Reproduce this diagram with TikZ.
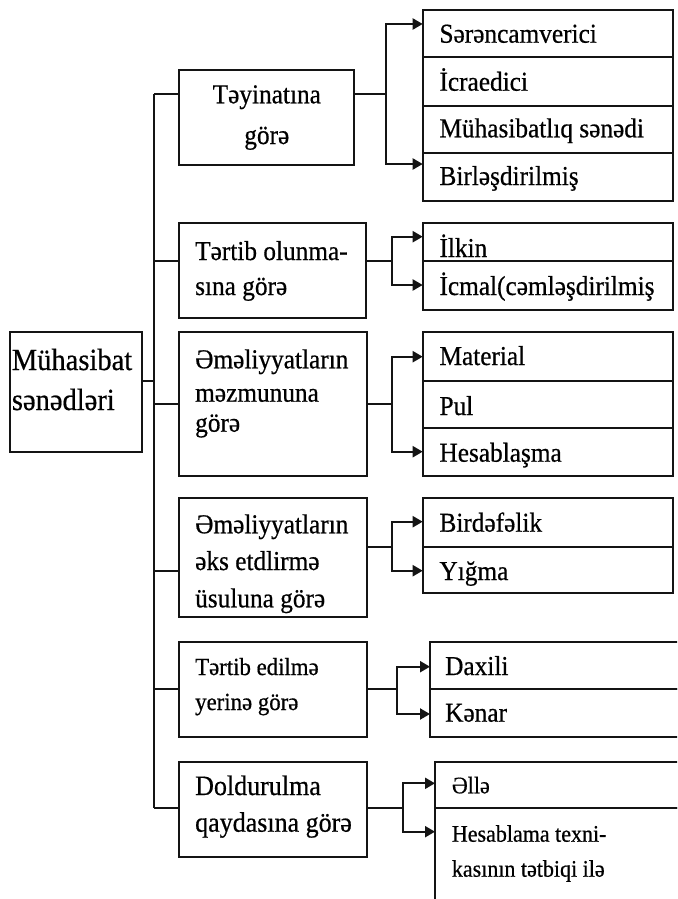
\documentclass[tikz,border=0pt]{standalone}
\usepackage{graphicx}
\usepackage{fontspec}
\setmainfont[FakeBold=0.6]{Liberation Serif}
\usetikzlibrary{arrows.meta}
\newcommand\vst[1]{\scalebox{1}[1.08]{#1}}
\begin{document}
\begin{tikzpicture}[x=1pt,y=-1pt,
  box/.style={draw=black!92, line width=2.1pt, inner sep=0pt, outer sep=0pt, anchor=north west},
  lnk/.style={line width=2.1pt, draw=black!92},
  arr/.style={line width=2.1pt, draw=black!92, -{Triangle[length=10pt,width=11pt]}},
  txt/.style={inner sep=0pt, anchor=base west, font=\fontsize{25.3}{30}\selectfont},
  ctxt/.style={txt, anchor=base},
]
\useasboundingbox (0,0) rectangle (677,899);
\clip (0,0) rectangle (677,899);

% ---------- boxes ----------
\node[box, minimum width=131.7pt, minimum height=120pt] (main) at (10,331.7) {};
\node[box, minimum width=175pt,   minimum height=94.7pt] (b1) at (179.3,70.3) {};
\node[box, minimum width=186.7pt, minimum height=95pt]   (b2) at (179.3,223.3) {};
\node[box, minimum width=187.4pt, minimum height=144pt]  (b3) at (179.3,331.7) {};
\node[box, minimum width=187.4pt, minimum height=119pt]  (b4) at (179.3,498.3) {};
\node[box, minimum width=187.4pt, minimum height=95pt]   (b5) at (179.3,642.3) {};
\node[box, minimum width=187.4pt, minimum height=95.6pt] (b6) at (179.3,761.7) {};

\node[box, minimum width=250pt, minimum height=47.3pt] (r1a) at (422.7,10) {};
\node[box, minimum width=250pt, minimum height=48.7pt] (r1b) at (422.7,57.3) {};
\node[box, minimum width=250pt, minimum height=46.7pt] (r1c) at (422.7,106) {};
\node[box, minimum width=250pt, minimum height=48pt]   (r1d) at (422.7,152.7) {};
\node[box, minimum width=250pt, minimum height=37.7pt] (r2a) at (422.7,223.3) {};
\node[box, minimum width=250pt, minimum height=49pt]   (r2b) at (422.7,261) {};
\node[box, minimum width=250pt, minimum height=49pt]   (r3a) at (422.7,331.7) {};
\node[box, minimum width=250pt, minimum height=47pt]   (r3b) at (422.7,380.7) {};
\node[box, minimum width=250pt, minimum height=48pt]   (r3c) at (422.7,427.7) {};
\node[box, minimum width=250pt, minimum height=48.4pt] (r4a) at (422.7,498.3) {};
\node[box, minimum width=250pt, minimum height=46.6pt] (r4b) at (422.7,546.7) {};
\node[box, minimum width=270pt, minimum height=47pt]   (r5a) at (430,642.3) {};
\node[box, minimum width=270pt, minimum height=48pt]   (r5b) at (430,689.3) {};
\node[box, minimum width=265pt, minimum height=46.6pt] (r6a) at (435,761.7) {};
\node[box, minimum width=265pt, minimum height=120pt]  (r6b) at (435,808.3) {};

% ---------- texts ----------
\node[txt, font=\fontsize{28.5}{30}\selectfont] (tm1) at (11.7,370) {\vst{Mühasibat}};
\node[txt, font=\fontsize{28.5}{30}\selectfont] (tm2) at (11.7,410) {\vst{sənədləri}};

\node[ctxt] (t1a) at (266.8,103.3) {\vst{Təyinatına}};
\node[ctxt] (t1b) at (266.8,144) {\vst{görə}};
\node[txt] (t2a) at (195,260) {\vst{Tərtib olunma-}};
\node[txt] (t2b) at (195,295) {\vst{sına görə}};
\node[txt] (t3a) at (195,368.3) {\vst{Əməliyyatların}};
\node[txt] (t3b) at (195,401.7) {\vst{məzmununa}};
\node[txt] (t3c) at (195,431.7) {\vst{görə}};
\node[txt] (t4a) at (195,533.3) {\vst{Əməliyyatların}};
\node[txt] (t4b) at (195,570) {\vst{əks etdlirmə}};
\node[txt] (t4c) at (195,607.3) {\vst{üsuluna görə}};
\node[txt, font=\fontsize{22.8}{30}\selectfont] (t5a) at (195,675) {\vst{Tərtib edilmə}};
\node[txt, font=\fontsize{22.8}{30}\selectfont] (t5b) at (195,710) {\vst{yerinə görə}};
\node[txt, font=\fontsize{26}{30}\selectfont] (t6a) at (195,795) {\vst{Doldurulma}};
\node[txt, font=\fontsize{26}{30}\selectfont] (t6b) at (195,831.7) {\vst{qaydasına görə}};

\node[txt] (s1a) at (439.3,42.7) {\vst{Sərəncamverici}};
\node[txt] (s1b) at (439.3,90.7) {\vst{İcraedici}};
\node[txt] (s1c) at (439.3,137.3) {\vst{Mühasibatlıq sənədi}};
\node[txt] (s1d) at (439.3,185) {\vst{Birləşdirilmiş}};
\node[txt] (s2a) at (439.3,257) {\vst{İlkin}};
\node[txt] (s2b) at (439.3,295) {\vst{İcmal(cəmləşdirilmiş}};
\node[txt] (s3a) at (439.3,365) {\vst{Material}};
\node[txt] (s3b) at (439.3,415) {\vst{Pul}};
\node[txt] (s3c) at (439.3,461.7) {\vst{Hesablaşma}};
\node[txt] (s4a) at (439.3,531.7) {\vst{Birdəfəlik}};
\node[txt] (s4b) at (439.3,580) {\vst{Yığma}};
\node[txt] (s5a) at (445,675) {\vst{Daxili}};
\node[txt] (s5b) at (445,721.7) {\vst{Kənar}};
\node[txt, font=\fontsize{22}{30}\selectfont] (s6a) at (451.7,793.3) {\vst{Əllə}};
\node[txt, font=\fontsize{22}{30}\selectfont] (s6b) at (451.7,841.7) {\vst{Hesablama texni-}};
\node[txt, font=\fontsize{22}{30}\selectfont] (s6c) at (451.7,876.7) {\vst{kasının tətbiqi ilə}};

% ---------- trunk ----------
\coordinate (trtop) at (154.3,94);
\coordinate (trbot) at (154.3,808.3);
\draw[lnk] (trtop) -- (trbot);
\draw[lnk] ([yshift=11pt]main.east) -- ([yshift=11pt]main.east -| trtop);

\coordinate (k1) at (179.3,94);
\coordinate (k2) at (179.3,261);
\coordinate (k3) at (179.3,404);
\coordinate (k4) at (179.3,570.7);
\coordinate (k5) at (179.3,689);
\coordinate (k6) at (179.3,808.3);
\foreach \k in {k1,k2,k3,k4,k5,k6}
  \draw[lnk] (\k -| trtop) -- (\k);

% ---------- branches ----------
\coordinate (j1) at (385.7,94);
\coordinate (j2) at (392.3,261);
\coordinate (j3) at (391.7,404);
\coordinate (j4) at (391.7,546.7);
\coordinate (j5) at (396.7,689);
\coordinate (j6) at (403.3,808.3);
\draw[lnk] (b1.east |- j1) -- (j1);
\draw[lnk] (b2.east |- j2) -- (j2);
\draw[lnk] (b3.east |- j3) -- (j3);
\draw[lnk] (b4.east |- j4) -- (j4);
\draw[lnk] (b5.east |- j5) -- (j5);
\draw[lnk] (b6.east |- j6) -- (j6);

\coordinate (a1a) at (422.7,24);
\coordinate (a1b) at (422.7,164);
\coordinate (a2a) at (422.7,236.7);
\coordinate (a2b) at (422.7,285);
\coordinate (a3a) at (422.7,356.7);
\coordinate (a3b) at (422.7,451.7);
\coordinate (a4a) at (422.7,521.7);
\coordinate (a4b) at (422.7,570.7);
\coordinate (a5a) at (430,666.7);
\coordinate (a5b) at (430,714);
\coordinate (a6a) at (435,783.3);
\coordinate (a6b) at (435,831.7);
\draw[arr] (j1) |- (a1a);
\draw[arr] (j1) |- (a1b);
\draw[arr] (j2) |- (a2a);
\draw[arr] (j2) |- (a2b);
\draw[arr] (j3) |- (a3a);
\draw[arr] (j3) |- (a3b);
\draw[arr] (j4) |- (a4a);
\draw[arr] (j4) |- (a4b);
\draw[arr] (j5) |- (a5a);
\draw[arr] (j5) |- (a5b);
\draw[arr] (j6) |- (a6a);
\draw[arr] (j6) |- (a6b);
\end{tikzpicture}
\end{document}
